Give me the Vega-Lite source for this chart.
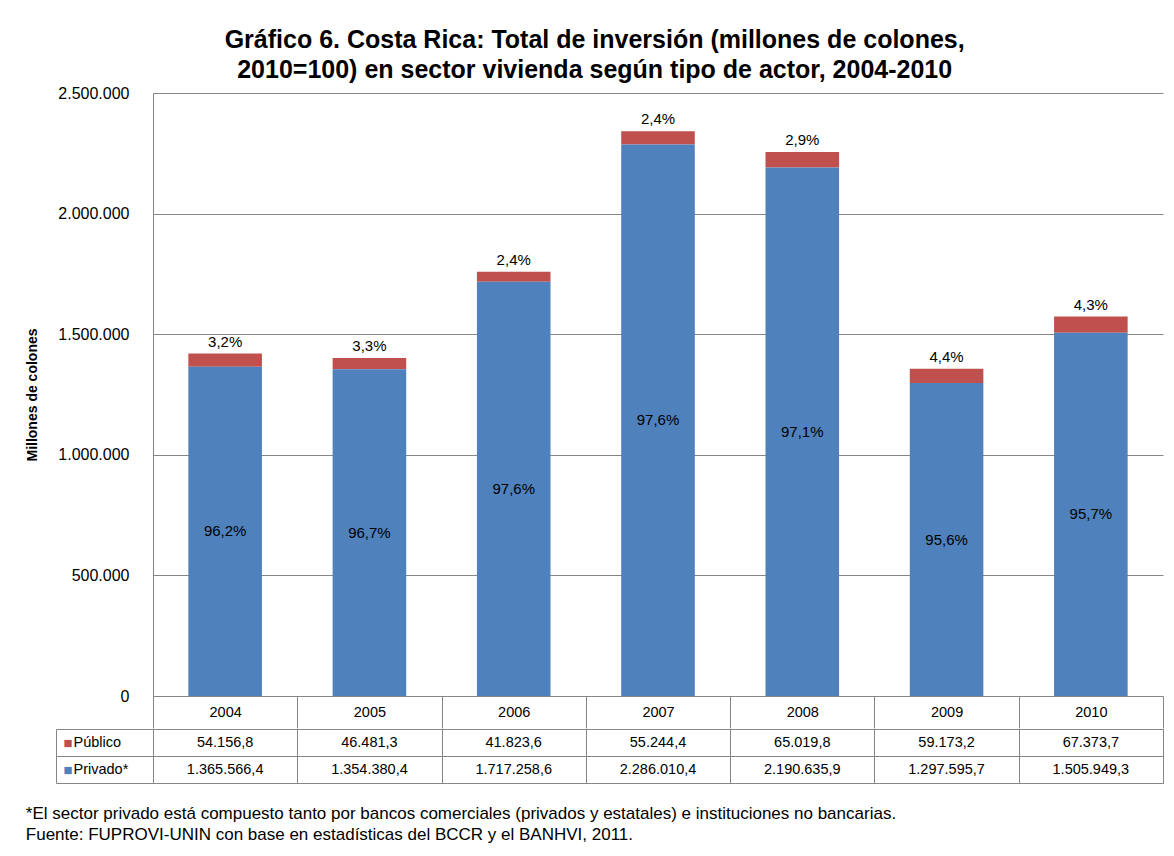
{
  "$schema": "https://vega.github.io/schema/vega-lite/v6.json",
  "padding": {"left": 25, "top": 28, "right": 8, "bottom": 8},
  "background": "white",
  "config": {
    "locale": {"number": {"decimal": ",", "thousands": ".", "grouping": [3], "currency": ["", ""]}},
    "font": "Liberation Sans",
    "view": {"stroke": null},
    "axis": {"labelFont": "Liberation Sans", "titleFont": "Liberation Sans", "labelColor": "#000", "titleColor": "#000"}
  },
  "data": {
    "values": [
      {"year": "2004", "actor": "Público", "value": 54156.8, "pct": 0.032},
      {"year": "2005", "actor": "Público", "value": 46481.3, "pct": 0.033},
      {"year": "2006", "actor": "Público", "value": 41823.6, "pct": 0.024},
      {"year": "2007", "actor": "Público", "value": 55244.4, "pct": 0.024},
      {"year": "2008", "actor": "Público", "value": 65019.8, "pct": 0.029},
      {"year": "2009", "actor": "Público", "value": 59173.2, "pct": 0.044},
      {"year": "2010", "actor": "Público", "value": 67373.7, "pct": 0.043},
      {"year": "2004", "actor": "Privado*", "value": 1365566.4, "pct": 0.962},
      {"year": "2005", "actor": "Privado*", "value": 1354380.4, "pct": 0.967},
      {"year": "2006", "actor": "Privado*", "value": 1717258.6, "pct": 0.976},
      {"year": "2007", "actor": "Privado*", "value": 2286010.4, "pct": 0.976},
      {"year": "2008", "actor": "Privado*", "value": 2190635.9, "pct": 0.971},
      {"year": "2009", "actor": "Privado*", "value": 1297595.7, "pct": 0.956},
      {"year": "2010", "actor": "Privado*", "value": 1505949.3, "pct": 0.957}
    ]
  },
  "title": {
    "text": ["*El sector privado está compuesto tanto por bancos comerciales (privados y estatales) e instituciones no bancarias.", "Fuente: FUPROVI-UNIN con base en estadísticas del BCCR y el BANHVI, 2011."],
    "orient": "bottom", "anchor": "start", "frame": "bounds",
    "font": "Liberation Sans", "fontSize": 17, "fontWeight": "normal",
    "lineHeight": 21, "offset": 22, "color": "#000"
  },
  "spacing": -10,
  "resolve": {"scale": {"x": "shared"}},
  "vconcat": [
    {
      "width": 1010,
      "height": 603,
      "title": {
        "text": ["Gráfico 6. Costa Rica: Total de inversión (millones de colones,", "2010=100) en sector vivienda según tipo de actor, 2004-2010"],
        "font": "Liberation Sans", "fontSize": 25, "fontWeight": "bold", "lineHeight": 30,
        "anchor": "middle", "frame": "bounds", "offset": 2, "color": "#000"
      },
      "layer": [
        {
          "mark": {"type": "bar", "width": {"band": 0.51}},
          "encoding": {
            "x": {
              "field": "year", "type": "nominal",
              "scale": {"paddingInner": 0, "paddingOuter": 0},
              "axis": {
                "title": null, "labelAngle": 0, "tickBand": "extent", "tickSize": 32,
                "tickColor": "#868686", "domainColor": "#868686", "labelFontSize": 14.5,
                "labelBaseline": "middle", "labelPadding": -16, "labelOverlap": false
              }
            },
            "y": {
              "field": "value", "type": "quantitative", "stack": "zero",
              "scale": {"domain": [0, 2500000], "nice": false},
              "axis": {
                "title": "Millones de colones", "titleFontSize": 14, "titleFontWeight": "bold", "titlePadding": 18,
                "values": [0, 500000, 1000000, 1500000, 2000000, 2500000], "format": ",.0f",
                "labelFontSize": 16, "labelPadding": 24, "ticks": false,
                "grid": true, "gridColor": "#868686", "gridOpacity": 1, "domainColor": "#868686"
              }
            },
            "color": {
              "field": "actor", "type": "nominal",
              "scale": {"domain": ["Público", "Privado*"], "range": ["#C0504D", "#4F81BD"]},
              "legend": null
            },
            "order": {"field": "actor", "sort": "ascending"}
          }
        },
        {
          "transform": [
            {"joinaggregate": [{"op": "sum", "field": "value", "as": "total"}], "groupby": ["year"]},
            {"filter": "datum.actor === 'Público'"}
          ],
          "mark": {"type": "text", "baseline": "bottom", "dy": -4, "fontSize": 15, "color": "#000"},
          "encoding": {
            "x": {"field": "year", "type": "nominal"},
            "y": {"field": "total", "type": "quantitative"},
            "text": {"field": "pct", "type": "quantitative", "format": ".1%"}
          }
        },
        {
          "transform": [{"filter": "datum.actor === 'Privado*'"}],
          "mark": {"type": "text", "baseline": "middle", "fontSize": 15, "color": "#000"},
          "encoding": {
            "x": {"field": "year", "type": "nominal"},
            "y": {"field": "value", "type": "quantitative", "stack": "zero", "bandPosition": 0.5},
            "detail": {"field": "actor"},
            "text": {"field": "pct", "type": "quantitative", "format": ".1%"}
          }
        }
      ]
    },
    {
      "width": 1010,
      "height": 54,
      "view": {"stroke": "#868686"},
      "layer": [
        {
          "mark": {"type": "text", "fontSize": 14.5, "baseline": "middle", "color": "#000"},
          "encoding": {
            "x": {
              "field": "year", "type": "nominal",
              "scale": {"paddingInner": 0, "paddingOuter": 0},
              "axis": {"title": null, "orient": "bottom", "labels": false, "ticks": false, "domain": false, "grid": true, "tickBand": "extent", "gridColor": "#868686", "gridOpacity": 1}
            },
            "y": {
              "field": "actor", "type": "nominal",
              "scale": {"domain": ["Público", "Privado*"], "paddingInner": 0, "paddingOuter": 0},
              "axis": {
                "title": null, "tickBand": "extent", "tickSize": 97, "tickColor": "#868686",
                "grid": true, "gridColor": "#868686", "gridOpacity": 1, "domainColor": "#868686",
                "labelAlign": "left", "labelBaseline": "middle", "labelPadding": -17,
                "labelFontSize": 14.5, "labelOverlap": false
              }
            },
            "text": {"field": "value", "type": "quantitative", "format": ",.1f"}
          }
        },
        {
          "mark": {"type": "text", "text": ""},
          "encoding": {
            "y": {
              "field": "actor", "type": "nominal",
              "scale": {"domain": ["Público", "Privado*"], "paddingInner": 0, "paddingOuter": 0},
              "axis": {
                "title": null, "orient": "left", "offset": 97, "ticks": false, "grid": false,
                "domainColor": "#868686", "labelExpr": "'■'", "labelAlign": "left", "labelBaseline": "middle",
                "labelPadding": -7, "labelFontSize": 15, "labelOverlap": false,
                "labelColor": {"condition": {"test": "datum.value === 'Público'", "value": "#C0504D"}, "value": "#4F81BD"}
              }
            }
          }
        }
      ],
      "resolve": {"scale": {"y": "independent"}, "axis": {"y": "independent"}}
    }
  ]
}
